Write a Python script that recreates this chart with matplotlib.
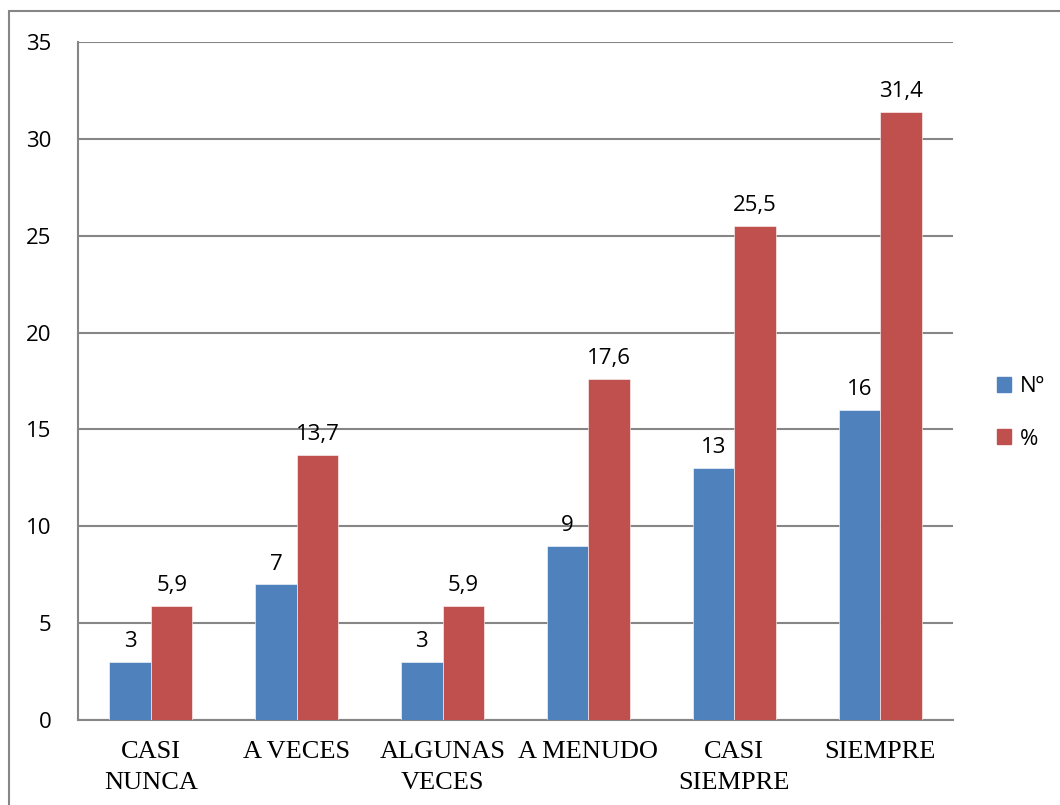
import numpy as np
from matplotlib import pyplot as plt
from matplotlib.patches import Rectangle, Patch

categorias = ["CASI\nNUNCA", "A VECES", "ALGUNAS\nVECES", "A MENUDO", "CASI\nSIEMPRE", "SIEMPRE"]
numero = [3, 7, 3, 9, 13, 16]
porcentaje = [5.9, 13.7, 5.9, 17.6, 25.5, 31.4]
etiquetas_num = ["3", "7", "3", "9", "13", "16"]
etiquetas_pct = ["5,9", "13,7", "5,9", "17,6", "25,5", "31,4"]
series = ["Nº", "%"]

azul = "#4F81BD"
rojo = "#C0504D"
gris = "#868686"

fig = plt.figure(figsize=(10.6, 8.05), dpi=100)
# borde del grafico
fig.patches.append(Rectangle((9 / 1060, -0.1), 1.2, 1 - 11 / 805 + 0.1, transform=fig.transFigure,
                             fill=False, edgecolor=gris, linewidth=1.5))
ax = fig.add_axes([78 / 1060, 85 / 805, 875 / 1060, 678 / 805])

x = np.arange(len(categorias))
w = 0.285
ax.bar(x - w / 2, numero, w, color=azul, edgecolor="white", linewidth=0.4, zorder=3)
ax.bar(x + w / 2, porcentaje, w, color=rojo, edgecolor="white", linewidth=0.4, zorder=3)

for i in range(len(categorias)):
    ax.annotate(etiquetas_num[i], (x[i] - w / 2, numero[i]), xytext=(0, 7), textcoords="offset points",
                ha="center", va="bottom", fontsize=16, family="Open Sans")
    ax.annotate(etiquetas_pct[i], (x[i] + w / 2, porcentaje[i]), xytext=(0, 7), textcoords="offset points",
                ha="center", va="bottom", fontsize=16, family="Open Sans")

ax.set_xlim(-0.5, len(categorias) - 0.5)
ax.set_ylim(0, 35)
ax.set_yticks(range(0, 36, 5))
ax.yaxis.grid(True, color=gris, linewidth=1.5, zorder=0)
ax.set_axisbelow(True)
ax.set_xticks(x)
ax.set_xticklabels(categorias, family="Liberation Serif", fontsize=19, linespacing=1.55)
for lbl in ax.get_yticklabels():
    lbl.set_family("Open Sans")
    lbl.set_fontsize(16)
ax.tick_params(axis="both", length=0)
ax.tick_params(axis="y", pad=19)
ax.tick_params(axis="x", pad=15)
for s in ["top", "right"]:
    ax.spines[s].set_visible(False)
for s in ["left", "bottom"]:
    ax.spines[s].set_color(gris)
    ax.spines[s].set_linewidth(1.5)

handles = [Patch(color=azul), Patch(color=rojo)]
fig.legend(handles, series, loc="center left", bbox_to_anchor=(977 / 1060, 1 - 413 / 805),
           frameon=False, prop={"family": "Open Sans", "size": 16}, handlelength=0.65, handleheight=0.65,
           handletextpad=0.4, labelspacing=1.4)

plt.savefig("out.png", dpi=100)
